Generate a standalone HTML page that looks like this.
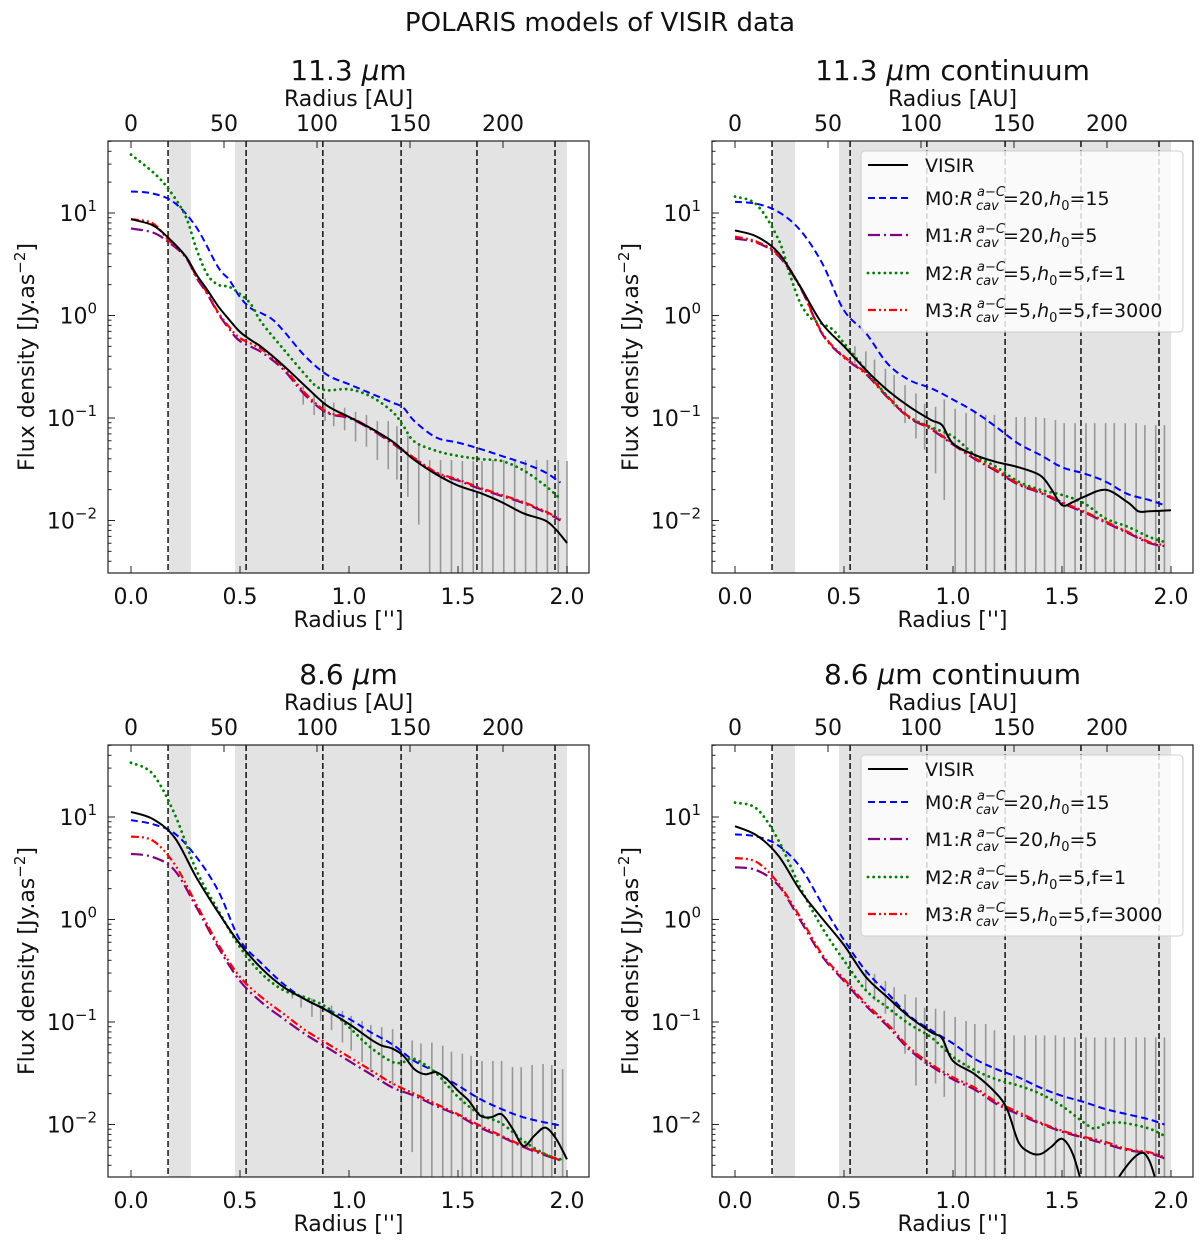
<!DOCTYPE html>
<html><head><meta charset="utf-8"><style>
html,body{margin:0;padding:0;background:#fff}
svg{display:block;font-family:"DejaVu Sans","Liberation Sans",sans-serif}
</style></head><body>
<svg id="fig" width="1200" height="1242" viewBox="0 0 1200 1242" xmlns="http://www.w3.org/2000/svg">
<text x="600" y="31" font-size="26" text-anchor="middle" fill="#111">POLARIS models of VISIR data</text>
</svg>
<script>
// ---- shared data ----
const auTicks = [0, 50, 100, 150, 200];
const xTicks = [0.0, 0.5, 1.0, 1.5, 2.0];
const xTickLabels = ["0.0", "0.5", "1.0", "1.5", "2.0"];
const yTickExp = [1, 0, -1, -2];
const vLines = [0.17, 0.528, 0.88, 1.239, 1.587, 1.945];
const shadeA = [0.174, 0.275];
const shadeB = [0.477, 2.0];
const auPerArcsec = 117.2;

// ---- panel 1: 11.3 um ----
const p1VisirR = [0,0.1,0.17,0.25,0.3,0.35,0.4,0.45,0.5,0.55,0.6,0.7,0.8,0.9,1.0,1.1,1.2,1.25,1.3,1.4,1.5,1.6,1.7,1.8,1.9,1.95,2.0];
const p1VisirLog = [0.94,0.88,0.76,0.58,0.40,0.25,0.09,-0.04,-0.16,-0.24,-0.31,-0.49,-0.69,-0.88,-0.99,-1.10,-1.23,-1.32,-1.41,-1.55,-1.66,-1.73,-1.82,-1.93,-2.00,-2.09,-2.22];
const p1M0R = [0,0.1,0.2,0.3,0.4,0.45,0.5,0.55,0.6,0.65,0.7,0.8,0.9,1.0,1.1,1.2,1.25,1.3,1.4,1.5,1.6,1.7,1.8,1.9,1.97];
const p1M0Log = [1.21,1.19,1.10,0.86,0.47,0.35,0.18,0.07,0.02,-0.04,-0.15,-0.40,-0.58,-0.67,-0.76,-0.85,-0.90,-1.03,-1.19,-1.24,-1.30,-1.37,-1.44,-1.53,-1.63];
const p1M13R = [0,0.1,0.17,0.25,0.3,0.35,0.4,0.45,0.5,0.6,0.7,0.8,0.9,1.0,1.1,1.2,1.3,1.4,1.5,1.6,1.7,1.8,1.9,1.97];
const p1M1Log = [0.85,0.81,0.72,0.57,0.37,0.21,0.02,-0.13,-0.25,-0.36,-0.53,-0.78,-0.95,-1.00,-1.11,-1.25,-1.40,-1.54,-1.61,-1.69,-1.76,-1.83,-1.92,-2.00];
const p1M3Log = [0.94,0.90,0.74,0.58,0.38,0.22,0.03,-0.11,-0.22,-0.33,-0.51,-0.76,-0.94,-0.99,-1.10,-1.24,-1.39,-1.53,-1.60,-1.68,-1.75,-1.82,-1.91,-1.99];
const p1M2R = [0,0.1,0.17,0.25,0.3,0.35,0.4,0.45,0.5,0.55,0.6,0.7,0.8,0.85,0.9,1.0,1.1,1.2,1.25,1.3,1.4,1.5,1.6,1.7,1.8,1.9,1.97];
const p1M2Log = [1.57,1.40,1.24,0.97,0.65,0.40,0.30,0.28,0.21,0.11,-0.07,-0.33,-0.58,-0.69,-0.73,-0.72,-0.79,-0.94,-1.08,-1.23,-1.32,-1.37,-1.40,-1.42,-1.51,-1.66,-1.79];
const p1BarR = [0.79,0.84,0.89,0.93,0.98,1.03,1.08,1.13,1.18,1.22,1.27,1.32,1.37,1.42,1.47,1.52,1.57,1.61,1.66,1.71,1.76,1.81,1.86,1.91,1.96,2.0];
const p1BarTop = [-0.69,-0.76,-0.81,-0.85,-0.90,-0.94,-0.97,-1.03,-1.03,-1.08,-1.17,-1.26,-1.41,-1.41,-1.41,-1.42,-1.42,-1.42,-1.41,-1.41,-1.41,-1.41,-1.41,-1.41,-1.41,-1.42];
const p1BarBot = [-0.87,-0.97,-1.03,-1.08,-1.12,-1.23,-1.28,-1.41,-1.50,-1.60,-1.77,-2.04,-3,-3,-3,-3,-3,-3,-3,-3,-3,-3,-3,-3,-3,-3];

// ---- panel 2: 11.3 um continuum ----
const p2VisirR = [0,0.1,0.2,0.3,0.4,0.5,0.6,0.7,0.8,0.9,0.95,1.0,1.1,1.2,1.3,1.4,1.45,1.5,1.55,1.6,1.7,1.8,1.85,1.9,2.0];
const p2VisirLog = [0.83,0.77,0.61,0.28,-0.08,-0.30,-0.53,-0.73,-0.89,-1.02,-1.07,-1.25,-1.36,-1.43,-1.48,-1.56,-1.69,-1.85,-1.82,-1.77,-1.70,-1.82,-1.91,-1.91,-1.90];
const p2ModR = [0,0.1,0.2,0.3,0.4,0.5,0.6,0.7,0.8,0.9,1.0,1.1,1.2,1.3,1.4,1.5,1.6,1.7,1.8,1.9,1.97];
const p2M0Log = [1.11,1.09,1.01,0.83,0.51,0.05,-0.17,-0.47,-0.63,-0.71,-0.82,-0.94,-1.09,-1.25,-1.36,-1.48,-1.54,-1.62,-1.74,-1.80,-1.85];
const p2M1Log = [0.75,0.71,0.58,0.27,-0.18,-0.41,-0.57,-0.80,-1.00,-1.11,-1.26,-1.40,-1.52,-1.65,-1.73,-1.83,-1.92,-2.02,-2.12,-2.22,-2.25];
const p2M3Log = [0.77,0.72,0.59,0.28,-0.17,-0.40,-0.56,-0.79,-0.99,-1.10,-1.25,-1.39,-1.51,-1.64,-1.72,-1.82,-1.91,-2.01,-2.11,-2.21,-2.24];
const p2M2R = [0,0.1,0.2,0.25,0.3,0.35,0.4,0.45,0.5,0.6,0.7,0.8,0.9,1.0,1.1,1.2,1.3,1.4,1.5,1.6,1.7,1.8,1.9,1.97];
const p2M2Log = [1.16,1.08,0.74,0.41,0.12,-0.03,-0.08,-0.14,-0.27,-0.53,-0.79,-0.99,-1.09,-1.18,-1.36,-1.48,-1.62,-1.70,-1.75,-1.83,-1.98,-2.06,-2.16,-2.21];
const p2BarR = [0.55,0.60,0.64,0.69,0.73,0.78,0.83,0.87,0.92,0.96,1.01,1.06,1.10,1.15,1.19,1.24,1.29,1.33,1.38,1.42,1.47,1.51,1.56,1.61,1.65,1.70,1.74,1.79,1.84,1.88,1.93,1.97];
const p2BarTop = [-0.30,-0.35,-0.43,-0.52,-0.58,-0.68,-0.76,-0.86,-0.89,-0.82,-0.91,-0.95,-0.95,-0.97,-0.97,-0.99,-0.99,-0.99,-0.99,-1.00,-1.02,-1.05,-1.05,-1.05,-1.05,-1.05,-1.05,-1.05,-1.05,-1.07,-1.07,-1.07];
const p2BarBot = [-0.47,-0.56,-0.66,-0.73,-0.89,-1.05,-1.20,-1.31,-1.54,-1.80,-3,-3,-3,-3,-3,-3,-3,-3,-3,-3,-3,-3,-3,-3,-3,-3,-3,-3,-3,-3,-3,-3];

// ---- panel 3: 8.6 um ----
const p3VisirR = [0,0.1,0.2,0.3,0.4,0.5,0.6,0.7,0.8,0.9,1.0,1.1,1.15,1.2,1.25,1.3,1.35,1.4,1.45,1.5,1.55,1.6,1.65,1.7,1.75,1.8,1.85,1.9,1.95,2.0];
const p3VisirLog = [1.05,0.98,0.80,0.41,0.07,-0.24,-0.48,-0.66,-0.78,-0.89,-1.02,-1.17,-1.23,-1.26,-1.33,-1.46,-1.51,-1.49,-1.56,-1.67,-1.77,-1.91,-1.93,-1.90,-2.04,-2.21,-2.11,-2.03,-2.14,-2.34];
const p3ModR = [0,0.1,0.2,0.3,0.4,0.5,0.6,0.7,0.8,0.9,1.0,1.1,1.2,1.3,1.4,1.5,1.6,1.7,1.8,1.9,1.97];
const p3M0Log = [0.97,0.93,0.84,0.61,0.28,-0.20,-0.43,-0.63,-0.78,-0.88,-0.97,-1.10,-1.22,-1.38,-1.49,-1.62,-1.75,-1.85,-1.93,-1.98,-2.01];
const p3M1Log = [0.64,0.61,0.48,0.12,-0.27,-0.60,-0.81,-0.97,-1.12,-1.25,-1.38,-1.51,-1.64,-1.72,-1.82,-1.91,-2.03,-2.12,-2.22,-2.30,-2.35];
const p3M3Log = [0.81,0.77,0.54,0.15,-0.24,-0.56,-0.76,-0.92,-1.08,-1.21,-1.34,-1.47,-1.60,-1.70,-1.80,-1.90,-2.01,-2.11,-2.21,-2.29,-2.35];
const p3M2R = [0,0.1,0.2,0.3,0.4,0.5,0.6,0.7,0.8,0.9,1.0,1.1,1.2,1.25,1.3,1.4,1.5,1.6,1.7,1.8,1.9,1.97];
const p3M2Log = [1.53,1.42,1.03,0.48,0.09,-0.27,-0.53,-0.69,-0.76,-0.86,-1.05,-1.25,-1.39,-1.39,-1.36,-1.50,-1.73,-1.90,-1.99,-2.16,-2.29,-2.34];
const p3BarR = [0.74,0.78,0.83,0.87,0.92,0.97,1.01,1.06,1.10,1.15,1.20,1.24,1.29,1.33,1.38,1.43,1.47,1.52,1.56,1.61,1.66,1.70,1.75,1.79,1.84,1.89,1.93,1.98];
const p3BarTop = [-0.69,-0.74,-0.77,-0.84,-0.84,-0.89,-0.94,-0.99,-1.03,-1.05,-1.07,-1.12,-1.18,-1.21,-1.20,-1.23,-1.29,-1.31,-1.33,-1.38,-1.38,-1.38,-1.44,-1.44,-1.42,-1.41,-1.42,-1.46];
const p3BarBot = [-0.77,-0.86,-0.95,-0.99,-1.08,-1.20,-1.28,-1.39,-1.49,-1.57,-1.62,-1.90,-2.27,-3,-3,-3,-3,-3,-3,-3,-3,-3,-3,-3,-3,-3,-3,-3];

// ---- panel 4: 8.6 um continuum ----
const p4VisirR = [0,0.1,0.2,0.3,0.4,0.5,0.6,0.7,0.8,0.9,0.95,1.0,1.1,1.2,1.25,1.3,1.35,1.4,1.45,1.5,1.55,1.6,1.65,1.75,1.85,1.9,1.95];
const p4VisirLog = [0.91,0.82,0.62,0.28,0.01,-0.25,-0.56,-0.76,-0.95,-1.10,-1.16,-1.38,-1.51,-1.70,-1.86,-2.17,-2.27,-2.29,-2.22,-2.14,-2.29,-2.65,-3.0,-2.55,-2.29,-2.35,-2.70];
const p4ModR = [0,0.1,0.2,0.3,0.4,0.5,0.6,0.7,0.8,0.9,1.0,1.1,1.2,1.3,1.4,1.5,1.6,1.7,1.8,1.9,1.97];
const p4M0Log = [0.83,0.81,0.72,0.51,0.15,-0.20,-0.50,-0.72,-0.94,-1.08,-1.21,-1.36,-1.46,-1.54,-1.64,-1.72,-1.78,-1.85,-1.90,-1.95,-2.00];
const p4M1Log = [0.51,0.48,0.33,-0.01,-0.36,-0.60,-0.84,-1.04,-1.27,-1.43,-1.56,-1.66,-1.80,-1.90,-1.99,-2.07,-2.13,-2.19,-2.25,-2.28,-2.33];
const p4M3Log = [0.60,0.56,0.35,0.02,-0.34,-0.58,-0.82,-1.02,-1.25,-1.41,-1.54,-1.64,-1.78,-1.88,-1.98,-2.06,-2.12,-2.17,-2.24,-2.27,-2.32];
const p4M2R = [0,0.1,0.2,0.3,0.4,0.5,0.6,0.7,0.8,0.9,1.0,1.1,1.2,1.3,1.4,1.5,1.6,1.65,1.7,1.75,1.8,1.9,1.97];
const p4M2Log = [1.14,1.08,0.77,0.31,-0.08,-0.40,-0.69,-0.86,-1.02,-1.15,-1.34,-1.47,-1.56,-1.62,-1.70,-1.82,-1.98,-2.04,-1.99,-1.98,-1.99,-2.04,-2.11];
const p4BarR = [0.60,0.64,0.69,0.73,0.78,0.83,0.87,0.92,0.96,1.01,1.06,1.10,1.15,1.19,1.24,1.28,1.33,1.38,1.42,1.47,1.51,1.56,1.61,1.65,1.70,1.74,1.79,1.84,1.88,1.93,1.97];
const p4BarTop = [-0.50,-0.53,-0.60,-0.66,-0.73,-0.76,-0.86,-0.87,-0.89,-0.95,-0.99,-1.02,-1.02,-1.08,-1.12,-1.13,-1.13,-1.13,-1.13,-1.13,-1.15,-1.15,-1.15,-1.15,-1.15,-1.15,-1.15,-1.15,-1.15,-1.15,-1.15];
const p4BarBot = [-0.69,-0.79,-0.92,-1.08,-1.31,-1.62,-1.41,-1.60,-1.73,-3,-3,-3,-3,-3,-3,-3,-3,-3,-3,-3,-3,-3,-3,-3,-3,-3,-3,-3,-3,-3,-3];

const NS = "http://www.w3.org/2000/svg";
const svg = document.getElementById("fig");
function mk(tag, attrs, parent) {
  const e = document.createElementNS(NS, tag);
  for (const k in attrs) e.setAttribute(k, attrs[k]);
  (parent || svg).appendChild(e);
  return e;
}
function smoothPath(pts) {
  let d = "M" + pts[0][0].toFixed(1) + "," + pts[0][1].toFixed(1);
  for (let i = 0; i < pts.length - 1; i++) {
    const p0 = pts[Math.max(0, i - 1)], p1 = pts[i], p2 = pts[i + 1], p3 = pts[Math.min(pts.length - 1, i + 2)];
    const c1x = p1[0] + (p2[0] - p0[0]) / 6, c1y = p1[1] + (p2[1] - p0[1]) / 6;
    const c2x = p2[0] - (p3[0] - p1[0]) / 6, c2y = p2[1] - (p3[1] - p1[1]) / 6;
    d += " C" + c1x.toFixed(1) + "," + c1y.toFixed(1) + " " + c2x.toFixed(1) + "," + c2y.toFixed(1) + " " + p2[0].toFixed(1) + "," + p2[1].toFixed(1);
  }
  return d;
}
const STY = {
  visir: {stroke: "#000", dash: "", w: 2},
  m0: {stroke: "#0000ff", dash: "7,4", w: 2},
  m1: {stroke: "#800080", dash: "12,4,2,4", w: 2.2},
  m2: {stroke: "#008000", dash: "0.1,5.5", w: 2.8, cap: "round"},
  m3: {stroke: "#ff0000", dash: "8,3,2,3,2,3", w: 2.2}
};

function panel(idx, ox, oy, title, series, bars, legend) {
  const g = mk("g", {});
  
  
  const L = 108 + ox, R = 589 + ox, T = 141 + oy, B = 573 + oy;
  const X = r => 131 + ox + 218 * r;
  const Y = lg => 315.5 + oy - 102.5 * lg;
  const cid = "clip" + idx;
  const cp = mk("clipPath", {id: cid}, g);
  mk("rect", {x: L, y: T, width: R - L, height: B - T}, cp);
  const plot = mk("g", {"clip-path": "url(#" + cid + ")"}, g);
  const s1 = mk("rect", {x: X(shadeA[0]), y: T, width: X(shadeA[1]) - X(shadeA[0]), height: B - T, fill: "#e3e3e3"}, plot);
  
  
  const s2 = mk("rect", {x: X(shadeB[0]), y: T, width: X(shadeB[1]) - X(shadeB[0]), height: B - T, fill: "#e3e3e3"}, plot);
  
  
  for (let i = 0; i < bars.r.length; i++) {
    const l = mk("line", {x1: X(bars.r[i]), x2: X(bars.r[i]), y1: Y(bars.top[i]), y2: Y(bars.bot[i]), stroke: "#8a8a8a", "stroke-width": 1.6, opacity: 0.85}, plot);
    
    
  }
  for (const v of vLines) {
    const l = mk("line", {x1: X(v), x2: X(v), y1: T, y2: B, stroke: "#111", "stroke-width": 1.5, "stroke-dasharray": "6,3"}, plot);
    
    
  }
  for (const s of series) {
    const st = STY[s.key];
    const pts = s.r.map((r, i) => [X(r), Y(s.v[i])]);
    const p = mk("path", {d: smoothPath(pts), fill: "none", stroke: st.stroke, "stroke-width": st.w, "stroke-dasharray": st.dash, "stroke-linecap": st.cap || "butt", "stroke-linejoin": "round"}, plot);
    
    
  }
  const fr = mk("rect", {x: L, y: T, width: R - L, height: B - T, fill: "none", stroke: "#222", "stroke-width": 1.2}, g);
  
  
  xTicks.forEach((t, i) => {
    mk("line", {x1: X(t), x2: X(t), y1: B, y2: B - 7, stroke: "#222", "stroke-width": 1}, g);
    const tx = mk("text", {x: X(t), y: B + 31, "font-size": 22, "text-anchor": "middle", fill: "#111"}, g);
    tx.textContent = xTickLabels[i];
    
    
  });
  auTicks.forEach(a => {
    const xx = X(a / auPerArcsec);
    mk("line", {x1: xx, x2: xx, y1: T, y2: T + 7, stroke: "#222", "stroke-width": 1}, g);
    const tx = mk("text", {x: xx, y: T - 10, "font-size": 22, "text-anchor": "middle", fill: "#111"}, g);
    tx.textContent = String(a);
    
    
  });
  for (let e = -3; e <= 1; e++) {
    for (let m = 1; m <= 9; m++) {
      const lg = e + Math.log10(m);
      const yy = Y(lg);
      if (yy < T || yy > B) continue;
      mk("line", {x1: L, x2: L + (m === 1 ? 7 : 3.5), y1: yy, y2: yy, stroke: "#222", "stroke-width": 1}, g);
    }
  }
  yTickExp.forEach(e => {
    const yy = Y(e);
    const tx = mk("text", {x: L - 11, y: yy + 8, "font-size": 22, "text-anchor": "end", fill: "#111"}, g);
    
    
    const sup = e < 0 ? "\u2212" + Math.abs(e) : String(e);
    tx.innerHTML = '10<tspan dy="-10" font-size="15">' + sup + '</tspan>';
  });
  const cx = (L + R) / 2;
  const tt = mk("text", {x: cx, y: 80 + oy, "font-size": 28, "text-anchor": "middle", fill: "#111"}, g);
  
  
  tt.innerHTML = title;
  const au = mk("text", {x: cx, y: 106 + oy, "font-size": 22, "text-anchor": "middle", fill: "#111"}, g);
  au.textContent = "Radius [AU]";
  
  
  const xl = mk("text", {x: cx, y: 627 + oy, "font-size": 22, "text-anchor": "middle", fill: "#111"}, g);
  xl.textContent = "Radius ['']";
  
  
  const yl = mk("text", {x: 0, y: 0, "font-size": 22, "text-anchor": "middle", fill: "#111", transform: "translate(" + (34 + ox) + "," + (357 + oy) + ") rotate(-90)"}, g);
  
  
  yl.innerHTML = 'Flux density [Jy.as<tspan dy="-9" font-size="15">\u22122</tspan><tspan dy="9">]</tspan>';
  if (legend) drawLegend(g, ox, oy);
}

function drawLegend(g, ox, oy) {
  const lg = mk("g", {}, g);
  
  
  mk("rect", {x: 861, y: 151 + oy, width: 322, height: 181, rx: 4, fill: "#fff", "fill-opacity": 0.82, stroke: "#cfcfcf", "stroke-width": 1}, lg);
  const rows = [
    {key: "visir", name: "VISIR", rest: null},
    {key: "m0", name: "M0:", rest: '=20,<tspan font-style="italic">h</tspan><tspan dy="5" font-size="13">0</tspan><tspan dy="-5">=15</tspan>'},
    {key: "m1", name: "M1:", rest: '=20,<tspan font-style="italic">h</tspan><tspan dy="5" font-size="13">0</tspan><tspan dy="-5">=5</tspan>'},
    {key: "m2", name: "M2:", rest: '=5,<tspan font-style="italic">h</tspan><tspan dy="5" font-size="13">0</tspan><tspan dy="-5">=5,f=1</tspan>'},
    {key: "m3", name: "M3:", rest: '=5,<tspan font-style="italic">h</tspan><tspan dy="5" font-size="13">0</tspan><tspan dy="-5">=5,f=3000</tspan>'}
  ];
  const rowY = [165, 198, 235, 273, 310];
  rows.forEach((row, i) => {
    const y = rowY[i] + oy;
    const st = STY[row.key];
    const e = mk("g", {}, lg);
    
    
    mk("line", {x1: 868, x2: 908, y1: y, y2: y, stroke: st.stroke, "stroke-width": st.w, "stroke-dasharray": st.dash, "stroke-linecap": st.cap || "butt"}, e);
    if (!row.rest) {
      const t = mk("text", {x: 925, y: y + 7, "font-size": 19, fill: "#111"}, e);
      t.textContent = row.name;
    } else {
      const t = mk("text", {x: 925, y: y + 7, "font-size": 19, fill: "#111"}, e);
      t.innerHTML = row.name + '<tspan font-style="italic">R</tspan>';
      const sp = mk("text", {x: 977, y: y - 2, "font-size": 13, fill: "#111"}, e);
      sp.innerHTML = '<tspan font-style="italic">a</tspan>\u2212<tspan font-style="italic">C</tspan>';
      const sb = mk("text", {x: 976, y: y + 12, "font-size": 13, "font-style": "italic", fill: "#111"}, e);
      sb.textContent = "cav";
      const rt = mk("text", {x: 1003, y: y + 7, "font-size": 19, fill: "#111"}, e);
      rt.innerHTML = row.rest;
    }
  });
}

const MU = '<tspan font-style="italic">\u03bc</tspan>m';
panel(1, 0, 0, '11.3 ' + MU,
  [{key: "m0", r: p1M0R, v: p1M0Log}, {key: "m1", r: p1M13R, v: p1M1Log}, {key: "m2", r: p1M2R, v: p1M2Log}, {key: "m3", r: p1M13R, v: p1M3Log}, {key: "visir", r: p1VisirR, v: p1VisirLog}],
  {r: p1BarR, top: p1BarTop, bot: p1BarBot}, false);
panel(2, 604, 0, '11.3 ' + MU + ' continuum',
  [{key: "m0", r: p2ModR, v: p2M0Log}, {key: "m1", r: p2ModR, v: p2M1Log}, {key: "m2", r: p2M2R, v: p2M2Log}, {key: "m3", r: p2ModR, v: p2M3Log}, {key: "visir", r: p2VisirR, v: p2VisirLog}],
  {r: p2BarR, top: p2BarTop, bot: p2BarBot}, true);
panel(3, 0, 604, '8.6 ' + MU,
  [{key: "m0", r: p3ModR, v: p3M0Log}, {key: "m1", r: p3ModR, v: p3M1Log}, {key: "m2", r: p3M2R, v: p3M2Log}, {key: "m3", r: p3ModR, v: p3M3Log}, {key: "visir", r: p3VisirR, v: p3VisirLog}],
  {r: p3BarR, top: p3BarTop, bot: p3BarBot}, false);
panel(4, 604, 604, '8.6 ' + MU + ' continuum',
  [{key: "m0", r: p4ModR, v: p4M0Log}, {key: "m1", r: p4ModR, v: p4M1Log}, {key: "m2", r: p4M2R, v: p4M2Log}, {key: "m3", r: p4ModR, v: p4M3Log}, {key: "visir", r: p4VisirR, v: p4VisirLog}],
  {r: p4BarR, top: p4BarTop, bot: p4BarBot}, true);
</script>
</body></html>
